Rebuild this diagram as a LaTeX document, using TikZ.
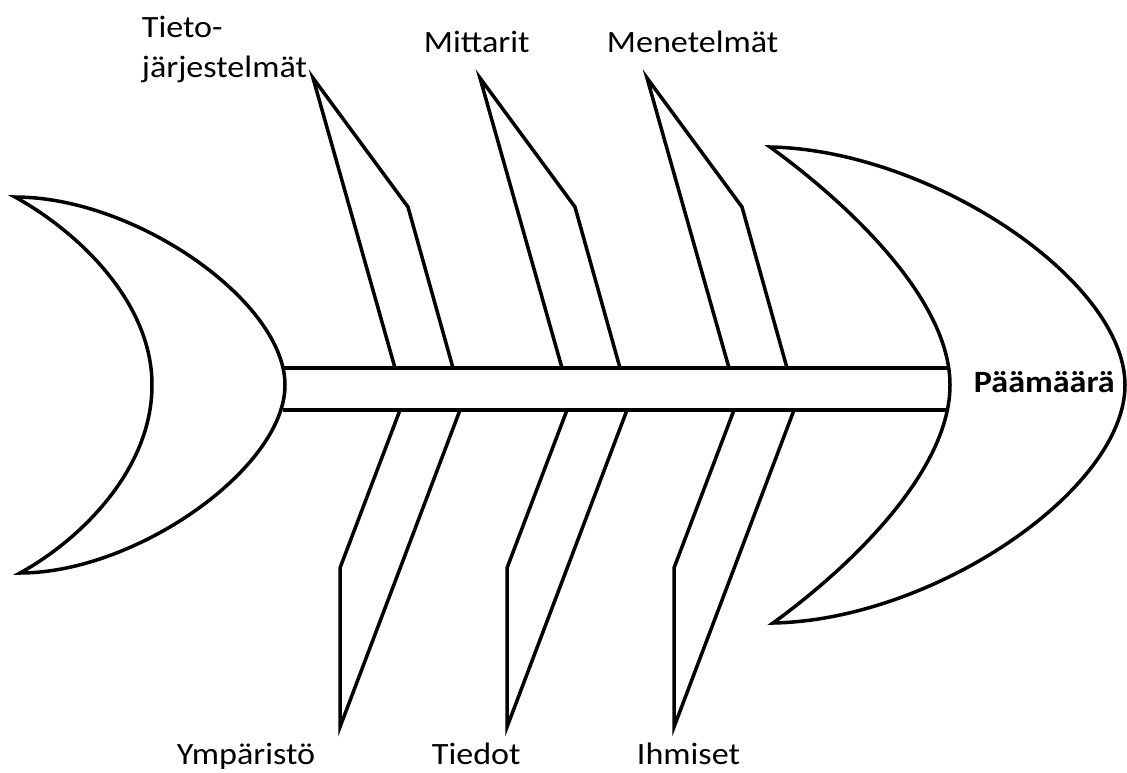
\documentclass[tikz,border=0pt]{standalone}
\usepackage{fontspec}
\setmainfont{Carlito}
\usetikzlibrary{positioning}

\begin{document}
\begin{tikzpicture}[x=1pt,y=-1pt,line width=3.5pt,
  lab/.style={inner sep=0pt,anchor=base west,xscale=1.1,
    font=\fontsize{31}{36}\selectfont}]

      \useasboundingbox (0,0) rectangle (1127,772);

      % tail
      \draw (15,197) .. controls (75,230) and (152,300) .. (152,385)
                     .. controls (152,470) and (80,540) .. (20,573)
                     .. controls (136,573) and (285,468) .. (285,385)
                     .. controls (285,302) and (136,197) .. cycle;

      % spine
      \draw (283,368) -- (949,368);
      \draw (283,410) -- (949,410);

      % head
      \draw (770,147) .. controls (850,205) and (950,300) .. (950,385)
                      .. controls (950,470) and (853,565) .. (773,623)
                      .. controls (933,620) and (1125,490) .. (1125,385)
                      .. controls (1125,280) and (930,150) .. cycle;

      % bones
      \foreach \d in {0,167,334}
      {
        \draw (395+\d,368) -- (313+\d,78) -- (408+\d,207) -- (453+\d,368);
        \draw (400+\d,410) -- (340+\d,568) -- (340+\d,727) -- (460+\d,410);
      }

      % labels
      \node[lab] (tieto) at (140,37) {Tieto-};
      \node[lab] (jarj) at (140,77) {järjestelmät};
      \node[lab] (mitt) at (422,52) {Mittarit};
      \node[lab] (mene) at (605,52) {Menetelmät};
      \node[lab] (ymp) at (175,764) {Ympäristö};
      \node[lab] (tied) at (430,764) {Tiedot};
      \node[lab] (ihm) at (635,764) {Ihmiset};
      \node[lab,font=\bfseries\fontsize{31}{36}\selectfont] (paa) at (972,392) {Päämäärä};

    \end{tikzpicture}
\end{document}
